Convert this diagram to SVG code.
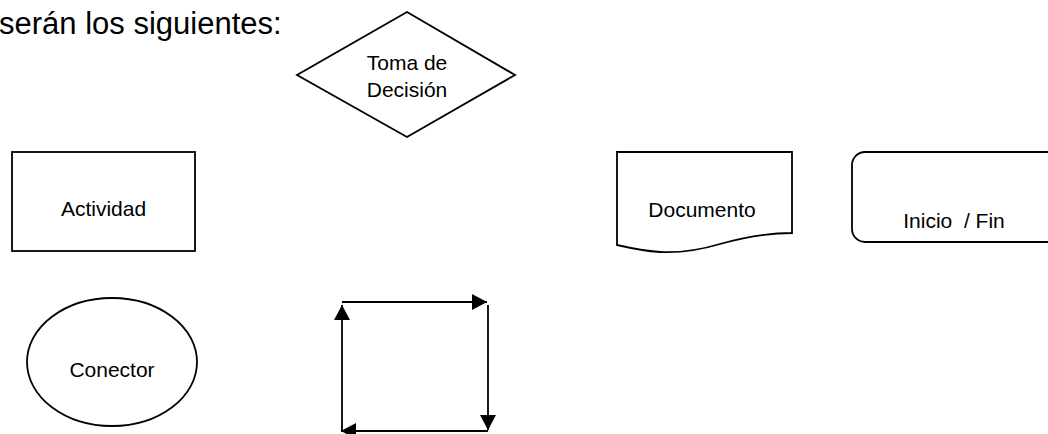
<svg xmlns="http://www.w3.org/2000/svg" width="1048" height="434" viewBox="0 0 1048 434">
<style>
.s{fill:#fff;stroke:#000;stroke-width:1.8}
.t{font-family:"Liberation Sans",Arial,sans-serif;font-size:21px;fill:#000;text-anchor:middle}
.c{stroke:#000;stroke-width:1.8;fill:none}
</style>
<defs>
<marker id="ah" viewBox="0 0 15 16" refX="15" refY="8" markerWidth="15" markerHeight="16" markerUnits="userSpaceOnUse" orient="auto">
<path d="M0,0 L15,8 L0,16 Z" fill="#000"/>
</marker>
</defs>
<rect width="1048" height="434" fill="#fff"/>
<text x="-1" y="34" style="font-family:'Liberation Sans',Arial,sans-serif;font-size:31px;fill:#000">serán los siguientes:</text>
<g id="decision">
<polygon class="s" points="407,12 515,75 407,137 297,75"/>
<text class="t" x="407" y="70">Toma de</text>
<text class="t" x="407" y="97">Decisión</text>
</g>
<g id="actividad">
<rect class="s" x="12" y="152" width="183" height="99"/>
<text class="t" x="103.5" y="216">Actividad</text>
</g>
<g id="documento">
<path class="s" d="M617,152 H792 V233 C772,233 745,237 720,244 C700,250 680,253 660,252 C645,251 630,248 617,245 Z"/>
<text class="t" x="702" y="217">Documento</text>
</g>
<g id="iniciofin">
<rect class="s" x="852" y="152" width="210" height="90" rx="13" ry="13"/>
<text class="t" x="954" y="228" xml:space="preserve">Inicio  / Fin</text>
</g>
<g id="conector">
<ellipse class="s" cx="112" cy="362" rx="85" ry="64"/>
<text class="t" x="112" y="377">Conector</text>
</g>
<g id="connectors">
<line class="c" x1="342" y1="302" x2="487" y2="302" marker-end="url(#ah)"/>
<line class="c" x1="488" y1="305" x2="488" y2="430" marker-end="url(#ah)"/>
<line class="c" x1="488" y1="431" x2="341" y2="431" marker-end="url(#ah)"/>
<line class="c" x1="342" y1="431" x2="342" y2="305" marker-end="url(#ah)"/>
</g>
</svg>
